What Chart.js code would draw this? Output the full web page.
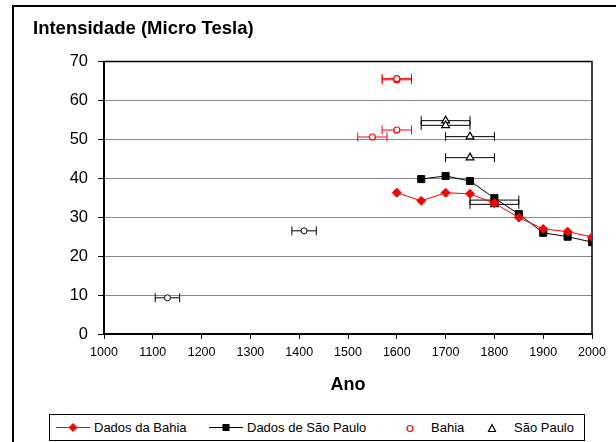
<!DOCTYPE html>
<html><head><meta charset="utf-8">
<script src="https://cdn.jsdelivr.net/npm/chart.js@4.4.0/dist/chart.umd.min.js"></script>
<style>
html,body{margin:0;padding:0;background:#fff;overflow:hidden}
#wrap{position:relative;width:616px;height:442px}
canvas{position:absolute;left:0;top:0}
#legend{position:absolute;left:49px;top:414px;width:536px;height:27px;border:1px solid #000;box-sizing:border-box;font-family:'Liberation Sans',Arial,sans-serif;font-size:13px;color:#000;background:#fff}
.lg{position:absolute;top:0;line-height:25px;white-space:nowrap}
#legend svg{position:absolute;top:0}
</style></head><body>
<div id="wrap"><canvas id="c" width="616" height="442"></canvas>
<div id="legend">
<svg style="left:6px" width="36" height="25"><line x1="0" y1="12.5" x2="34" y2="12.5" stroke="#f00" stroke-width="1"/><polygon points="17,8 21.5,12.5 17,17 12.5,12.5" fill="#f00"/></svg>
<span class="lg" style="left:44px">Dados da Bahia</span>
<svg style="left:159px" width="36" height="25"><line x1="0" y1="12.5" x2="34" y2="12.5" stroke="#000" stroke-width="1"/><rect x="13.5" y="9" width="7" height="7" fill="#000"/></svg>
<span class="lg" style="left:197px">Dados de São Paulo</span>
<svg style="left:352px" width="16" height="25"><circle cx="8" cy="13.5" r="3" fill="#fff" stroke="#f00" stroke-width="1.2"/></svg>
<span class="lg" style="left:381px">Bahia</span>
<svg style="left:434px" width="16" height="25"><polygon points="8,9.5 11.5,16.5 4.5,16.5" fill="#fff" stroke="#000" stroke-width="1.2"/></svg>
<span class="lg" style="left:464px">São Paulo</span>
</div></div>
<script>
// ---- data ----
const lineYears = [1600, 1650, 1700, 1750, 1800, 1850, 1900, 1950, 2000];
const bahiaLine = [36.3, 34.2, 36.3, 36.0, 33.6, 29.9, 27.0, 26.3, 24.9];
const spLineYears = [1650, 1700, 1750, 1800, 1850, 1900, 1950, 2000];
const spLine = [39.8, 40.6, 39.3, 34.9, 30.8, 26.0, 25.0, 23.6];
const bahiaPtYears = [1600, 1600, 1600, 1550];
const bahiaPtVals = [65.3, 65.6, 52.4, 50.6];
const bahiaPtErr = [30, 30, 30, 30];
const spPtYears = [1700, 1700, 1750, 1750, 1800, 1800];
const spPtVals = [54.8, 53.6, 50.7, 45.3, 34.4, 33.3];
const spPtErr = [50, 50, 50, 50, 50, 50];
const otherPtYears = [1130, 1410];
const otherPtVals = [9.3, 26.5];
const otherPtErr = [25, 25];
const xTicks = [1000, 1100, 1200, 1300, 1400, 1500, 1600, 1700, 1800, 1900, 2000];
const yTicks = [0, 10, 20, 30, 40, 50, 60, 70];

const pts = (xs, ys) => xs.map((x, i) => ({x: x, y: ys[i]}));
Chart.defaults.font.family = "'Liberation Sans', Arial, sans-serif";
Chart.defaults.color = '#000';

const framePlugin = {
  id: 'frame',
  beforeDraw(chart) {
    const ctx = chart.ctx;
    ctx.save();
    ctx.fillStyle = '#fff';
    ctx.fillRect(0, 0, chart.width, chart.height);
    ctx.strokeStyle = '#000';
    ctx.lineWidth = 2;
    ctx.beginPath();
    ctx.moveTo(13, chart.height + 2);
    ctx.lineTo(13, 6);
    ctx.lineTo(chart.width + 2, 6);
    ctx.stroke();
    ctx.restore();
  },
  beforeDatasetsDraw(chart) {
    const ctx = chart.ctx, a = chart.chartArea;
    ctx.save();
    ctx.strokeStyle = '#000';
    ctx.lineWidth = 1.5;
    ctx.strokeRect(a.left, a.top, a.right - a.left, a.bottom - a.top);
    // error bars
    const xs = chart.scales.x, ys = chart.scales.y;
    chart.data.datasets.forEach((ds) => {
      if (!ds.xErr) return;
      ctx.strokeStyle = ds.borderColor;
      ctx.lineWidth = 1;
      ds.data.forEach((p, i) => {
        const e = ds.xErr[i];
        const x1 = xs.getPixelForValue(p.x - e), x2 = xs.getPixelForValue(p.x + e);
        const y = ys.getPixelForValue(p.y);
        ctx.beginPath();
        ctx.moveTo(x1, y); ctx.lineTo(x2, y);
        ctx.moveTo(x1, y - 4.5); ctx.lineTo(x1, y + 4.5);
        ctx.moveTo(x2, y - 4.5); ctx.lineTo(x2, y + 4.5);
        ctx.stroke();
      });
    });
    ctx.restore();
  }
};

new Chart(document.getElementById('c'), {
  type: 'scatter',
  data: {
    datasets: [
      {label: 'Dados da Bahia', data: pts(lineYears, bahiaLine), showLine: true, borderColor: '#ff0000', backgroundColor: '#ff0000', borderWidth: 1, pointStyle: 'rectRot', pointRadius: 4.5, pointBackgroundColor: '#ff0000', pointBorderColor: '#ff0000'},
      {label: 'Dados de São Paulo', data: pts(spLineYears, spLine), showLine: true, borderColor: '#000', backgroundColor: '#000', borderWidth: 1, pointStyle: 'rect', pointRadius: 5, pointBackgroundColor: '#000', pointBorderColor: '#000'},
      {label: 'Bahia', data: pts(bahiaPtYears, bahiaPtVals), xErr: bahiaPtErr, borderColor: '#ff0000', pointStyle: 'circle', pointRadius: 3, pointBorderWidth: 1.2, pointBackgroundColor: '#fff', pointBorderColor: '#ff0000'},
      {label: 'São Paulo', data: pts(spPtYears, spPtVals), xErr: spPtErr, borderColor: '#000', pointStyle: 'triangle', pointRadius: 4.5, pointBorderWidth: 1.2, pointBackgroundColor: '#fff', pointBorderColor: '#000'},
      {label: 'outros', data: pts(otherPtYears, otherPtVals), xErr: otherPtErr, borderColor: '#000', pointStyle: 'circle', pointRadius: 3, pointBorderWidth: 1, pointBackgroundColor: '#fff', pointBorderColor: '#000'}
    ]
  },
  options: {
    responsive: false,
    animation: false,
    events: [],
    layout: {padding: {left: 33, right: 24, top: 0, bottom: 40}},
    plugins: {
      legend: {display: false},
      tooltip: {enabled: false},
      title: {display: true, text: 'Intensidade (Micro Tesla)', align: 'start', color: '#000',
        font: {size: 18.5, weight: 'bold'}, padding: {top: 18.3, bottom: 21}}
    },
    scales: {
      x: {
        type: 'linear', min: 1000, max: 2000,
        afterBuildTicks: s => { s.ticks = xTicks.map(v => ({value: v})); },
        afterFit: s => { s.height = 68; },
        ticks: {font: {size: 12.5}, color: '#000', padding: 6, maxRotation: 0, autoSkip: false, callback: v => String(v)},
        grid: {drawOnChartArea: false, drawTicks: true, tickLength: 5, tickColor: '#000'},
        border: {display: true, color: '#000', width: 2},
        title: {display: true, text: 'Ano', color: '#000', font: {size: 18, weight: 'bold'}, padding: {top: 0, bottom: 6.5}}
      },
      y: {
        type: 'linear', min: 0, max: 70,
        afterBuildTicks: s => { s.ticks = yTicks.map(v => ({value: v})); },
        afterFit: s => { s.width = 71; },
        ticks: {font: {size: 16.5}, color: '#000', padding: 10, callback: v => String(v)},
        grid: {color: '#868686', lineWidth: 1, drawTicks: true, tickLength: 6, tickColor: '#000'},
        border: {display: true, color: '#000', width: 2}
      }
    }
  },
  plugins: [framePlugin]
});
</script>
</body></html>
